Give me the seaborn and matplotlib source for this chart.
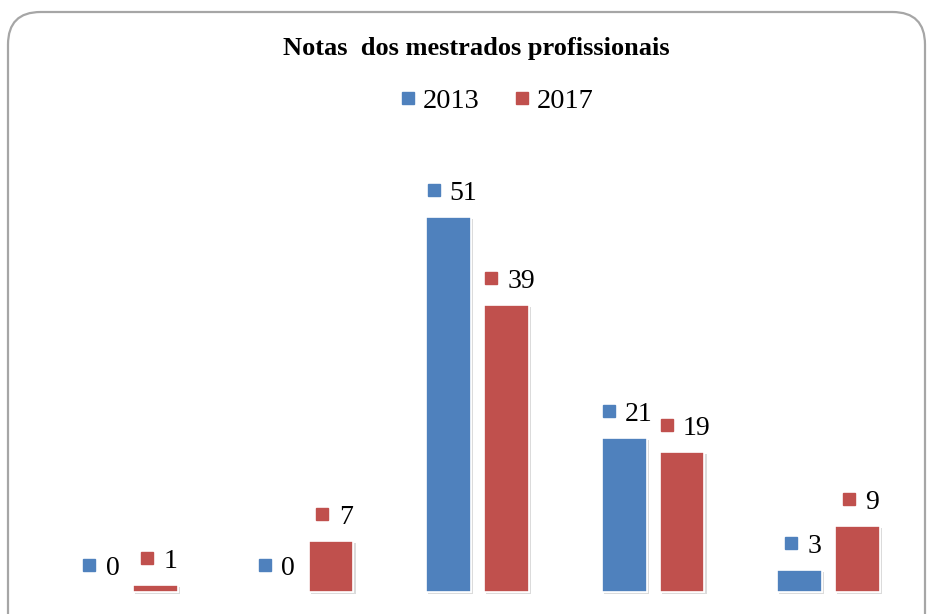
import pandas as pd
import numpy as np
import matplotlib.pyplot as plt
import matplotlib.patheffects as pe
from matplotlib.lines import Line2D
from matplotlib.patches import FancyBboxPatch
from matplotlib.transforms import offset_copy
import seaborn as sns

# dados
CATEGORIAS = ["1", "2", "3", "4", "5"]
ANOS = ["2013", "2017"]
NOTAS_2013 = [0, 0, 51, 21, 3]
NOTAS_2017 = [1, 7, 39, 19, 9]
CORES = {"2013": "#4F81BD", "2017": "#C0504D"}
TITULO = "Notas  dos mestrados profissionais"

sns.set_theme(style="white")
plt.rcParams['font.family'] = ['Liberation Serif', 'DejaVu Serif']
plt.rcParams['text.color'] = 'black'

df = pd.DataFrame({
    'categoria': CATEGORIAS * 2,
    'ano': [ANOS[0]] * len(CATEGORIAS) + [ANOS[1]] * len(CATEGORIAS),
    'nota': NOTAS_2013 + NOTAS_2017,
})

fig = plt.figure(figsize=(9.31, 6.14), dpi=100)
ax = fig.add_axes([0, 0, 1, 1])

sns.barplot(data=df, x='categoria', y='nota', hue='ano', palette=CORES,
            width=0.66, gap=0.224, dodge=True, legend=False, ax=ax,
            edgecolor='white', linewidth=1.2, saturation=1)

for p in ax.patches:
    p.set_path_effects([pe.withSimplePatchShadow(offset=(1.5, -1.5), shadow_rgbFace='#999999', alpha=0.35),
                        pe.Normal()])

ax.set_xlim(-0.721, 4.584)
ax.set_ylim(-2.99, 80.5)
ax.axis('off')

# rótulos: quadrado colorido + valor
for cont, ano in zip(ax.containers, ANOS):
    for bar in cont:
        xc = bar.get_x() + bar.get_width() / 2
        h = bar.get_height()
        v = int(round(h))
        w = 13 * len(str(v))
        tr_txt = offset_copy(ax.transData, fig=fig, x=15, y=17, units='dots')
        ax.text(xc, h, str(v), transform=tr_txt, ha='center', va='baseline',
                fontsize=20, color='black')
        tr_sq = offset_copy(ax.transData, fig=fig, x=15 - w / 2 - 17, y=27, units='dots')
        ax.plot([xc], [h], marker='s', markersize=8.5, color=CORES[ano],
                linestyle='none', transform=tr_sq)

fig.text(476 / 931, 1 - 48 / 614, TITULO, ha='center', va='center',
         fontsize=19, fontweight='bold', color='black')

handles = [Line2D([], [], marker='s', color=CORES[a], linestyle='none', markersize=8.5)
           for a in ANOS]
fig.legend(handles, ANOS, loc='center', bbox_to_anchor=(497 / 931, 1 - 101 / 614),
           ncol=2, frameon=False, fontsize=20.5, handlelength=0.55, handletextpad=0.25,
           columnspacing=1.2, borderpad=0)

borda = FancyBboxPatch((8 / 931, -0.1), 917 / 931, 1.1 - 12 / 614,
                       boxstyle="round,pad=0,rounding_size=0.035",
                       transform=fig.transFigure, fill=False,
                       edgecolor='#A6A6A6', linewidth=1.6, mutation_aspect=931 / 614)
fig.patches.append(borda)

fig.savefig('out.png', dpi=100)
